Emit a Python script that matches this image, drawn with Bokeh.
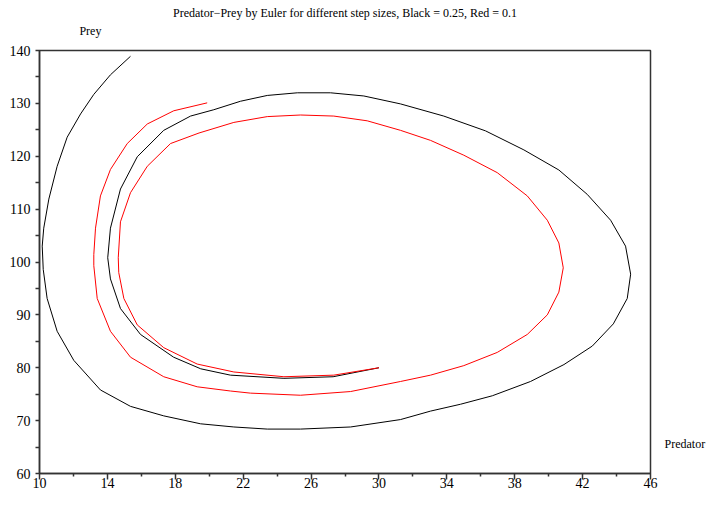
from bokeh.plotting import figure
from bokeh.models import Range1d, FixedTicker, Title, LinearAxis
from bokeh.embed import file_html
from bokeh.resources import INLINE

# Euler trajectory, step size 0.25 (black): predator (x) vs prey (y)
black_x = [30.0, 27.3, 24.4, 21.25, 19.5, 17.9, 15.95, 14.77, 14.18, 14.02, 14.18, 14.77,
           15.76, 17.32, 18.9, 20.27, 21.84, 23.42, 25.19, 27.15, 29.11, 31.27, 33.82,
           36.28, 38.54, 40.6, 42.27, 43.65, 44.53, 44.83, 44.63, 43.81, 42.57, 40.9,
           38.93, 36.68, 34.81, 33.04, 31.27, 28.33, 25.38, 23.42, 21.45, 19.49, 17.32,
           15.36, 13.59, 12.02, 11.04, 10.45, 10.22, 10.16, 10.25, 10.55, 11.04, 11.63,
           12.42, 13.2, 14.18, 15.36]
black_y = [80.0, 78.3, 78.0, 78.6, 79.8, 82.0, 86.3, 91.2, 96.8, 100.8, 106.4, 113.8,
           119.9, 124.9, 127.6, 128.8, 130.4, 131.5, 132.0, 132.0, 131.4, 129.9, 127.6,
           124.8, 121.2, 117.4, 112.8, 107.9, 103.0, 97.7, 93.1, 88.3, 84.1, 80.6,
           77.4, 74.7, 73.1, 71.8, 70.2, 68.8, 68.4, 68.4, 68.8, 69.4, 70.9,
           72.7, 75.8, 81.4, 86.9, 93.1, 98.6, 103.0, 106.4, 111.9, 118.1, 123.6,
           128.0, 131.7, 135.4, 138.9]

# Euler trajectory, step size 0.1 (red)
red_x = [30.0, 27.34, 24.4, 21.45, 19.29, 17.32, 15.76, 14.97, 14.67, 14.64, 14.77,
         15.36, 16.35, 17.72, 19.4, 21.45, 23.42, 25.38, 27.34, 29.31, 31.27, 33.04,
         35.0, 36.97, 38.74, 39.92, 40.6, 40.86, 40.6, 39.92, 38.74, 36.97, 35.0,
         33.04, 31.27, 28.33, 25.38, 22.43, 21.25, 19.29, 17.32, 15.36, 14.18, 13.4,
         13.2, 13.2, 13.3, 13.59, 14.18, 15.17, 16.35, 17.91, 19.88]
red_y = [80.0, 78.6, 78.3, 79.2, 80.7, 83.8, 88.1, 93.1, 98.0, 100.8, 107.6,
         113.1, 118.1, 122.4, 124.4, 126.4, 127.5, 127.8, 127.6, 126.7, 124.9, 123.0,
         120.2, 116.9, 112.5, 107.9, 103.6, 98.9, 94.3, 90.0, 86.3, 82.9, 80.4,
         78.6, 77.4, 75.5, 74.8, 75.2, 75.6, 76.4, 78.3, 82.0, 86.9, 93.1,
         99.3, 101.4, 106.4, 112.5, 117.5, 122.4, 126.1, 128.6, 130.1]

x_ticks = [10, 14, 18, 22, 26, 30, 34, 38, 42, 46]
x_minor = [12, 16, 20, 24, 28, 32, 36, 40, 44]
y_ticks = [60, 70, 80, 90, 100, 110, 120, 130, 140]
y_minor = [65, 75, 85, 95, 105, 115, 125, 135]

title_text = "Predator\u2212Prey by Euler for different step sizes, Black = 0.25, Red = 0.1"
x_name = "Predator"
x_name_at = 65.6   # prey-axis height at which the Predator caption sits
y_name = "Prey"
y_name_at = 13.0   # predator-axis position above which the Prey caption sits

FONT = "Liberation Serif"
AX = "#333333"

p = figure(width=710, height=491, output_backend="svg", toolbar_location=None,
           x_range=Range1d(10, 46), y_range=Range1d(60, 140),
           min_border_left=39, min_border_right=60, min_border_top=50,
           min_border_bottom=18, title_location=None)
p.background_fill_color = "white"
p.border_fill_color = "white"
p.outline_line_color = AX
p.outline_line_width = 1.5
p.grid.visible = False

p.line(black_x, black_y, line_color="black", line_width=1)
p.line(red_x, red_y, line_color="#ff0000", line_width=1)

p.xaxis.ticker = FixedTicker(ticks=x_ticks, minor_ticks=x_minor)
p.yaxis.ticker = FixedTicker(ticks=y_ticks, minor_ticks=y_minor)
for ax in (p.xaxis, p.yaxis):
    ax.axis_line_color = AX
    ax.axis_line_width = 1.5
    ax.major_tick_line_color = AX
    ax.minor_tick_line_color = AX
    ax.major_tick_line_width = 1.5
    ax.minor_tick_line_width = 1.5
    ax.major_tick_in = 0
    ax.minor_tick_in = 0
    ax.major_label_text_font = FONT
    ax.major_label_text_font_size = "14px"
    ax.major_label_text_color = "black"
p.xaxis.major_tick_out = 6
p.xaxis.minor_tick_out = 3
p.xaxis.major_label_standoff = -2
p.yaxis.major_tick_out = 4
p.yaxis.minor_tick_out = 4
p.yaxis.major_label_standoff = 5


def caption_axis(at, name, standoff):
    a = LinearAxis(ticker=FixedTicker(ticks=[at], minor_ticks=[]),
                   major_label_overrides={at: name})
    a.axis_line_color = None
    a.major_tick_line_color = None
    a.minor_tick_line_color = None
    a.major_tick_in = 0
    a.major_tick_out = 0
    a.major_label_standoff = standoff
    a.major_label_text_font = FONT
    a.major_label_text_font_size = "12px"
    a.major_label_text_color = "black"
    return a


p.add_layout(caption_axis(x_name_at, x_name, 14), "right")
p.add_layout(caption_axis(y_name_at, y_name, 13), "above")

main_title = Title(text=title_text, align="center", offset=2, text_font=FONT,
                   text_font_size="12px", text_font_style="normal",
                   text_color="black", standoff=0, vertical_align="middle")
p.add_layout(main_title, "above")

open("out.html", "w").write(file_html(p, INLINE))
